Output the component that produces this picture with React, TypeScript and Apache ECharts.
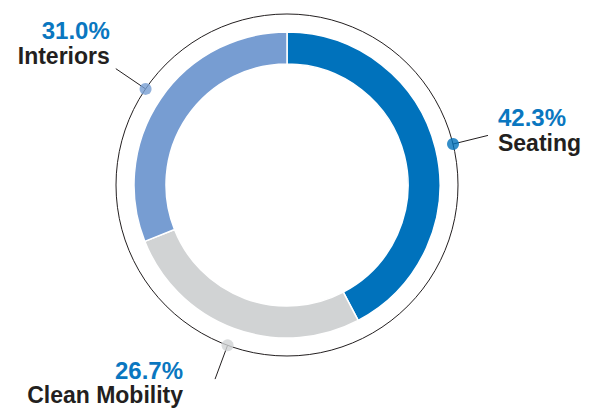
import React, { useEffect, useRef } from "react";
import * as echarts from "echarts";

const categories = ["Seating", "Clean Mobility", "Interiors"];
const shares = [42.3, 26.7, 31.0];

const sliceColors = ["#0072bc", "#d1d3d4", "#779dd2"];
const labelPadding = [
  [0, 0, 11, 4],
  [6, 26, 0, 0],
  [0, 0, 52, 0],
];

const FONT = "'Liberation Sans', Arial, sans-serif";

export default function App() {
  const ref = useRef<HTMLDivElement>(null);

  useEffect(() => {
    document.body.style.margin = "0";
    if (!ref.current) return;
    const chart = echarts.init(ref.current, undefined, { renderer: "svg" });

    const total = shares.reduce((a, b) => a + b, 0);
    const mids: number[] = [];
    let acc = 0;
    shares.forEach((v) => {
      mids.push(((acc + v / 2) / total) * 100);
      acc += v;
    });

    const center = [287, 185];

    chart.setOption({
      animation: false,
      polar: { center, radius: 171 },
      angleAxis: {
        type: "value",
        min: 0,
        max: 100,
        startAngle: 90,
        clockwise: true,
        axisLine: { show: true, lineStyle: { color: "#231f20", width: 1 } },
        axisTick: { show: false },
        axisLabel: { show: false },
        splitLine: { show: false },
      },
      radiusAxis: { type: "value", min: 0, max: 1, show: false },
      series: [
        {
          type: "pie",
          center,
          radius: [121, 153],
          startAngle: 90,
          clockwise: true,
          silent: true,
          label: { show: false },
          labelLine: { show: false },
          itemStyle: { borderColor: "#ffffff", borderWidth: 1.5 },
          data: categories.map((name, i) => ({
            name,
            value: shares[i],
            itemStyle: { color: sliceColors[i] },
          })),
          z: 2,
        },
        {
          type: "pie",
          center,
          radius: [0, 171],
          startAngle: 90,
          clockwise: true,
          silent: true,
          avoidLabelOverlap: false,
          itemStyle: { color: "rgba(0,0,0,0)", borderWidth: 0 },
          label: {
            show: true,
            position: "outside",
            alignTo: "none",
            overflow: "none",
            bleedMargin: 0,
            distanceToLabelLine: 6,
            formatter: (p: any) => `{p|${shares[p.dataIndex].toFixed(1)}%}\n{n|${p.name}}`,
            rich: {
              p: {
                fontFamily: FONT,
                fontSize: 24,
                fontWeight: "bold",
                color: "#0a77c0",
                lineHeight: 26,
              },
              n: {
                fontFamily: FONT,
                fontSize: 23,
                fontWeight: "bold",
                color: "#231f20",
                lineHeight: 24,
              },
            },
          },
          labelLine: {
            show: true,
            length: 36,
            length2: 0,
            smooth: false,
            lineStyle: { color: "#231f20", width: 1 },
          },
          data: categories.map((name, i) => ({
            name,
            value: shares[i],
            label: { padding: labelPadding[i] },
          })),
          z: 1,
        },
        {
          type: "scatter",
          coordinateSystem: "polar",
          symbol: "circle",
          symbolSize: 12,
          silent: true,
          data: mids.map((m, i) => ({
            value: [1, m],
            itemStyle: { color: sliceColors[i] },
          })),
          z: 5,
        },
      ],
    });

    return () => chart.dispose();
  }, []);

  return <div ref={ref} style={{ width: 590, height: 410 }} />;
}
